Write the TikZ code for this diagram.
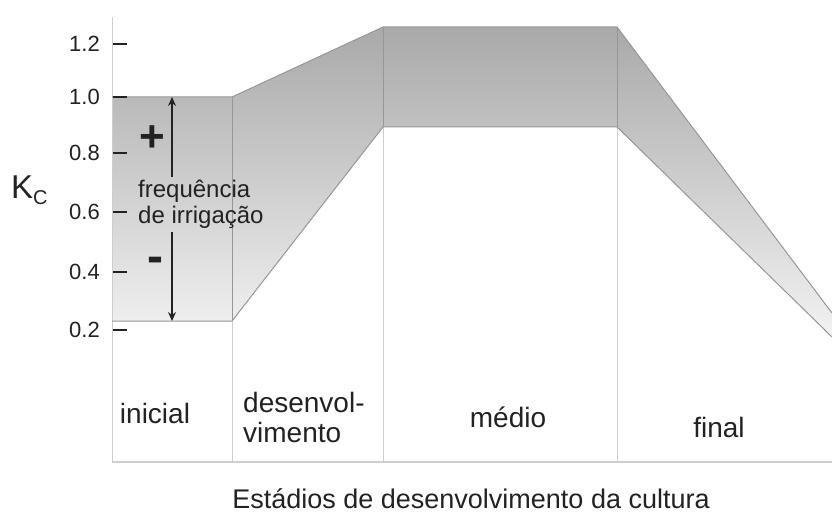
\documentclass[tikz,border=0pt]{standalone}
\usepackage{fontspec}
\setmainfont{Liberation Sans}
\usetikzlibrary{arrows.meta}
\definecolor{edgegray}{HTML}{979797}
\definecolor{gridgray}{HTML}{CDCDCD}
\definecolor{shadetop}{HTML}{A9A9A9}
\definecolor{shadebot}{HTML}{F2F2F2}
\definecolor{inkgray}{HTML}{222222}
\tikzset{
  ticklabel/.style={anchor=east, inner sep=2pt, text=inkgray, font=\fontsize{22}{26}\selectfont},
  stage/.style={anchor=base, inner sep=2pt, text=inkgray, font=\fontsize{28}{30}\selectfont},
  tickmark/.style={draw=inkgray, line width=1.4pt},
}
\begin{document}
\begin{tikzpicture}[x=1pt, y=-1pt, >={Stealth[length=9pt, width=8pt]}]
\useasboundingbox (0,0) rectangle (832,513);
% band of Kc values
\shade[top color=shadetop, bottom color=shadebot] (112,97) -- (232,97) -- (383,27) -- (617,27) -- (832,313) -- (832,337) -- (617,127) -- (383,127) -- (232,321) -- (112,321) -- cycle;
% frame
\draw[gridgray, line width=1pt] (112,17) -- (112,462);
\draw[gridgray, line width=1.6pt] (112,462) -- (832,462);
\draw[gridgray, line width=1pt] (232,321) -- (232,462);
\draw[gridgray, line width=1pt] (383,127) -- (383,462);
\draw[gridgray, line width=1pt] (617,127) -- (617,462);
\draw[edgegray, line width=1pt] (112,97) -- (232,97) -- (383,27) -- (617,27) -- (832,313);
\draw[edgegray, line width=1pt] (832,337) -- (617,127) -- (383,127) -- (232,321) -- (112,321);
\draw[edgegray, line width=1pt] (232,97) -- (232,321);
\draw[edgegray, line width=1pt] (383,27) -- (383,127);
\draw[edgegray, line width=1pt] (617,27) -- (617,127);
% y axis
\draw[tickmark] (113,44) -- (127,44);
\draw[tickmark] (113,97) -- (127,97);
\draw[tickmark] (113,153) -- (127,153);
\draw[tickmark] (113,212) -- (127,212);
\draw[tickmark] (113,272) -- (127,272);
\draw[tickmark] (113,330) -- (127,330);
\node[ticklabel] (t12) at (102,44) {1.2};
\node[ticklabel] (t10) at (102,97) {1.0};
\node[ticklabel] (t08) at (102,153) {0.8};
\node[ticklabel] (t06) at (102,212) {0.6};
\node[ticklabel] (t04) at (102,272) {0.4};
\node[ticklabel] (t02) at (102,330) {0.2};
\node[anchor=base west, inner sep=0pt, text=inkgray] (kc) at (11,198) {\fontsize{33}{33}\selectfont K\raisebox{-6pt}{\fontsize{20}{20}\selectfont C}};
% irrigation frequency
\coordinate (hi) at (172,97);
\coordinate (lo) at (172,321);
\node[anchor=north west, align=left, inner sep=3pt, text=inkgray, font=\fontsize{24}{26}\selectfont] (freq) at (135,177) {frequência\\de irrigação};
\node[anchor=base, inner sep=0pt, text=inkgray, font=\fontsize{44}{44}\selectfont\bfseries] (plus) at (152,152) {+};
\node[anchor=base, inner sep=0pt, text=inkgray, font=\fontsize{48}{48}\selectfont\bfseries] (minus) at (155,272) {-};
\draw[->, inkgray, line width=1.3pt] (freq.north -| hi) -- (hi);
\draw[->, inkgray, line width=1.3pt] (freq.south -| lo) -- (lo);
% stages
\node[stage] (ini) at (155,423) {inicial};
\node[stage, anchor=north west, align=left] (des) at (241,390) {desenvol-\\vimento};
\node[stage] (med) at (508,427) {médio};
\node[stage] (fin) at (719,437) {final};
\node[stage, font=\fontsize{27}{30}\selectfont] (title) at (471,508) {Estádios de desenvolvimento da cultura};
\end{tikzpicture}
\end{document}
